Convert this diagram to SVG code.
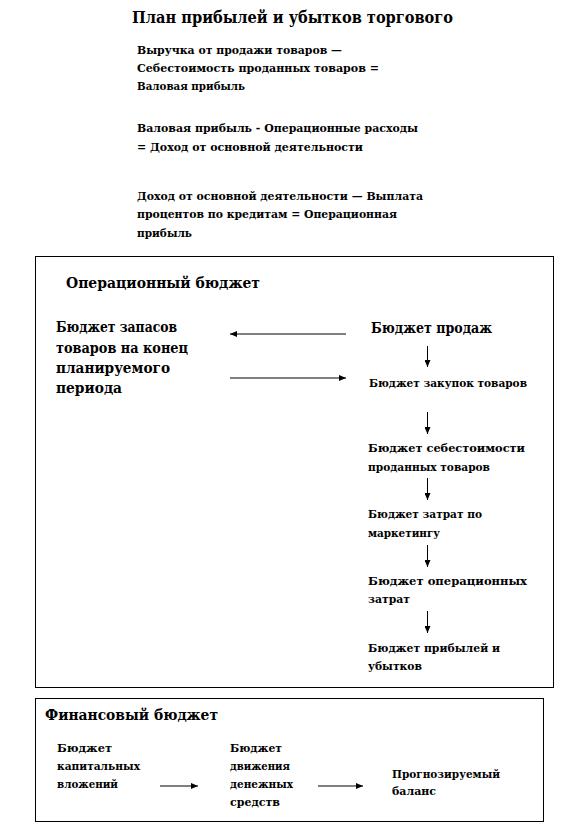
<svg xmlns="http://www.w3.org/2000/svg" width="566" height="831" viewBox="0 0 566 831">
<defs>
<marker id="ah" markerWidth="7" markerHeight="6" refX="7" refY="3" orient="auto" markerUnits="userSpaceOnUse">
<path d="M0,0 L7,3 L0,6 Z" fill="#000"/>
</marker>
<style>
text{font-family:"DejaVu Serif","Liberation Serif",serif;font-weight:bold;fill:#000}
.t{font-size:16px}
.s{font-size:11.5px}
.m{font-size:15px}
.h{font-size:14px}
.box{fill:none;stroke:#000;stroke-width:1}
.c line{stroke:#000;stroke-width:1;marker-end:url(#ah)}
</style>
</defs>
<rect width="566" height="831" fill="#fff"/>
<g id="title"><text class="t" x="132" y="23" textLength="321" lengthAdjust="spacingAndGlyphs">План прибылей и убытков торгового</text></g>
<g id="eq1"><text class="s" x="137" y="54" textLength="205" lengthAdjust="spacingAndGlyphs">Выручка  от продажи  товаров  —</text><text class="s" x="137" y="72" textLength="242" lengthAdjust="spacingAndGlyphs">Себестоимость проданных  товаров  =</text><text class="s" x="137" y="90" textLength="108" lengthAdjust="spacingAndGlyphs">Валовая прибыль</text></g>
<g id="eq2"><text class="s" x="137" y="132" textLength="281" lengthAdjust="spacingAndGlyphs">Валовая прибыль  - Операционные  расходы</text><text class="s" x="137" y="151" textLength="226" lengthAdjust="spacingAndGlyphs">= Доход  от основной  деятельности</text></g>
<g id="eq3"><text class="s" x="137" y="200" textLength="286" lengthAdjust="spacingAndGlyphs">Доход  от основной  деятельности — Выплата</text><text class="s" x="137" y="218" textLength="260" lengthAdjust="spacingAndGlyphs">процентов  по кредитам = Операционная</text><text class="s" x="137" y="237" textLength="55" lengthAdjust="spacingAndGlyphs">прибыль</text></g>

<g id="operational">
<rect class="box" x="35.5" y="256.5" width="518" height="431"/>
<text class="m" x="66" y="288" textLength="194" lengthAdjust="spacingAndGlyphs">Операционный бюджет</text>
</g>
<g id="stock"><text class="m" x="56" y="332" textLength="121" lengthAdjust="spacingAndGlyphs">Бюджет запасов</text><text class="m" x="56" y="353" textLength="132" lengthAdjust="spacingAndGlyphs">товаров на конец</text><text class="m" x="56" y="373" textLength="114" lengthAdjust="spacingAndGlyphs">планируемого</text><text class="m" x="56" y="393" textLength="66" lengthAdjust="spacingAndGlyphs">периода</text></g>
<g id="sales"><text class="m" x="371" y="333" textLength="121" lengthAdjust="spacingAndGlyphs">Бюджет  продаж</text></g>
<g id="purchases"><text class="s" x="369" y="387" textLength="158" lengthAdjust="spacingAndGlyphs">Бюджет закупок  товаров</text></g>
<g id="cogs"><text class="s" x="368" y="452" textLength="157" lengthAdjust="spacingAndGlyphs">Бюджет себестоимости</text><text class="s" x="368" y="471" textLength="122" lengthAdjust="spacingAndGlyphs">проданных  товаров</text></g>
<g id="marketing"><text class="s" x="368" y="518" textLength="114" lengthAdjust="spacingAndGlyphs">Бюджет затрат по</text><text class="s" x="368" y="537" textLength="72" lengthAdjust="spacingAndGlyphs">маркетингу</text></g>
<g id="opex"><text class="s" x="368" y="585" textLength="159" lengthAdjust="spacingAndGlyphs">Бюджет операционных</text><text class="s" x="368" y="603" textLength="42" lengthAdjust="spacingAndGlyphs">затрат</text></g>
<g id="pl"><text class="s" x="368" y="652" textLength="132" lengthAdjust="spacingAndGlyphs">Бюджет прибылей  и</text><text class="s" x="368" y="670" textLength="54" lengthAdjust="spacingAndGlyphs">убытков</text></g>

<g id="financial">
<rect class="box" x="35.5" y="698.5" width="508" height="123"/>
<text class="h" x="45" y="720" textLength="173" lengthAdjust="spacingAndGlyphs">Финансовый бюджет</text>
</g>
<g id="capex"><text class="s" x="57" y="752" textLength="55" lengthAdjust="spacingAndGlyphs">Бюджет</text><text class="s" x="57" y="770" textLength="83" lengthAdjust="spacingAndGlyphs">капитальных</text><text class="s" x="57" y="788" textLength="61" lengthAdjust="spacingAndGlyphs">вложений</text></g>
<g id="cashflow"><text class="s" x="230" y="752" textLength="52" lengthAdjust="spacingAndGlyphs">Бюджет</text><text class="s" x="230" y="770" textLength="60" lengthAdjust="spacingAndGlyphs">движения</text><text class="s" x="230" y="788" textLength="63" lengthAdjust="spacingAndGlyphs">денежных</text><text class="s" x="230" y="806" textLength="50" lengthAdjust="spacingAndGlyphs">средств</text></g>
<g id="balance"><text class="s" x="392" y="778" textLength="108" lengthAdjust="spacingAndGlyphs">Прогнозируемый</text><text class="s" x="392" y="795" textLength="44" lengthAdjust="spacingAndGlyphs">баланс</text></g>

<g id="connectors" class="c">
<line x1="346" y1="334" x2="230" y2="334"/>
<line x1="230" y1="378" x2="346" y2="378"/>
<line x1="427.5" y1="346" x2="427.5" y2="367"/>
<line x1="427.5" y1="412" x2="427.5" y2="434"/>
<line x1="427.5" y1="478" x2="427.5" y2="500"/>
<line x1="427.5" y1="545" x2="427.5" y2="567"/>
<line x1="427.5" y1="611" x2="427.5" y2="633"/>
<line x1="160" y1="786" x2="198" y2="786"/>
<line x1="318" y1="786" x2="363" y2="786"/>
</g>
</svg>
